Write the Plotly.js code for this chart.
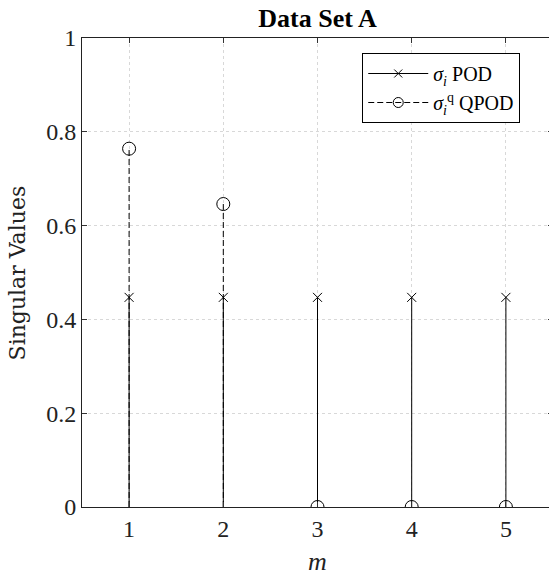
<!DOCTYPE html>
<html>
<head>
<meta charset="utf-8">
<script src="https://cdn.plot.ly/plotly-3.0.1.min.js"></script>
<style>
html,body{margin:0;padding:0;overflow:hidden;background:#fff;}
#chart{width:553px;height:576px;}
</style>
</head>
<body>
<div id="chart"></div>
<script>
// Data
const modes = [1, 2, 3, 4, 5];
const podValues = [0.447, 0.447, 0.447, 0.447, 0.447];
const qpodValues = [0.764, 0.646, 0, 0, 0];
const yTicks = [0, 0.2, 0.4, 0.6, 0.8, 1];
const yTickLabels = ['0', '0.2', '0.4', '0.6', '0.8', '1'];

function stems(xs, ys) {
  const sx = [], sy = [];
  xs.forEach((x, i) => { sx.push(x, x, null); sy.push(0, ys[i], null); });
  return {sx, sy};
}
const podStem = stems(modes, podValues);
const qpodStem = stems(modes, qpodValues);

const font = 'Liberation Serif, Times New Roman, serif';
const wideFont = 'DejaVu Serif, Liberation Serif, serif';

const traces = [
  {x: podStem.sx, y: podStem.sy, mode: 'lines', line: {color: '#000', width: 1}, showlegend: false, hoverinfo: 'skip'},
  {x: qpodStem.sx, y: qpodStem.sy, mode: 'lines', line: {color: '#000', width: 1, dash: '6px,3px'}, showlegend: false, hoverinfo: 'skip'},
  {x: modes, y: podValues, mode: 'markers', name: 'POD',
   marker: {symbol: 'x-thin-open', size: 9, line: {color: '#000', width: 1}, color: '#000'}, showlegend: false},
  {x: modes, y: qpodValues, mode: 'markers', name: 'QPOD',
   marker: {symbol: 'circle-open', size: 13, line: {color: '#000', width: 1}, color: '#000'}, showlegend: false},
  // legend entries
  {x: [null], y: [null], mode: 'lines+markers', name: '<i>σ</i><sub><i>i</i></sub> POD',
   line: {color: '#000', width: 1}, marker: {symbol: 'x-thin-open', size: 8, line: {color: '#000', width: 1}}},
  {x: [null], y: [null], mode: 'lines+markers', name: '<i>σ</i><sub><i>i</i></sub><sup>q</sup> QPOD',
   line: {color: '#000', width: 1, dash: '6px,3px'}, marker: {symbol: 'circle-open', size: 10, line: {color: '#000', width: 1}}}
];

const layout = {
  width: 553, height: 576,
  margin: {l: 82, r: 0, t: 38, b: 69},
  paper_bgcolor: '#fff', plot_bgcolor: '#fff',
  font: {family: font, size: 24, color: '#222'},
  title: {text: '<b>Data Set A</b>', font: {family: font, size: 26, color: '#000'}, x: 0.5, xref: 'paper', y: 0.969, yanchor: 'middle'},
  xaxis: {
    range: [0.5, 5.5], tickvals: modes, ticktext: modes.map(String),
    ticks: 'inside', ticklen: 5, tickcolor: '#333', mirror: 'ticks',
    showline: true, linecolor: '#222', linewidth: 1,
    showgrid: true, gridcolor: '#d8d8d8', griddash: 'dot', gridwidth: 1,
    zeroline: false,
    title: {text: '<i>m</i>', font: {family: font, size: 26, color: '#222'}, standoff: 11},
    tickfont: {family: font, size: 24, color: '#222'}
  },
  yaxis: {
    range: [0, 1], tickvals: yTicks, ticktext: yTickLabels,
    ticks: 'inside', ticklen: 5, tickcolor: '#333', mirror: 'ticks',
    showline: true, linecolor: '#222', linewidth: 1,
    showgrid: true, gridcolor: '#d8d8d8', griddash: 'dot', gridwidth: 1,
    zeroline: false,
    tickfont: {family: font, size: 24, color: '#222'}
  },
  annotations: [{
    text: 'Singular Values', textangle: -90, showarrow: false,
    xref: 'paper', yref: 'paper', x: -0.136, y: 0.5, xanchor: 'center', yanchor: 'middle',
    font: {family: wideFont, size: 22, color: '#222'}
  }],
  legend: {
    x: 0.595, y: 0.968, xanchor: 'left', yanchor: 'top',
    bgcolor: '#fff', bordercolor: '#000', borderwidth: 1,
    font: {family: font, size: 20, color: '#000'},
    tracegroupgap: 0, itemwidth: 60
  },
  showlegend: true
};

Plotly.newPlot('chart', traces, layout, {staticPlot: true, displayModeBar: false});
</script>
</body>
</html>
